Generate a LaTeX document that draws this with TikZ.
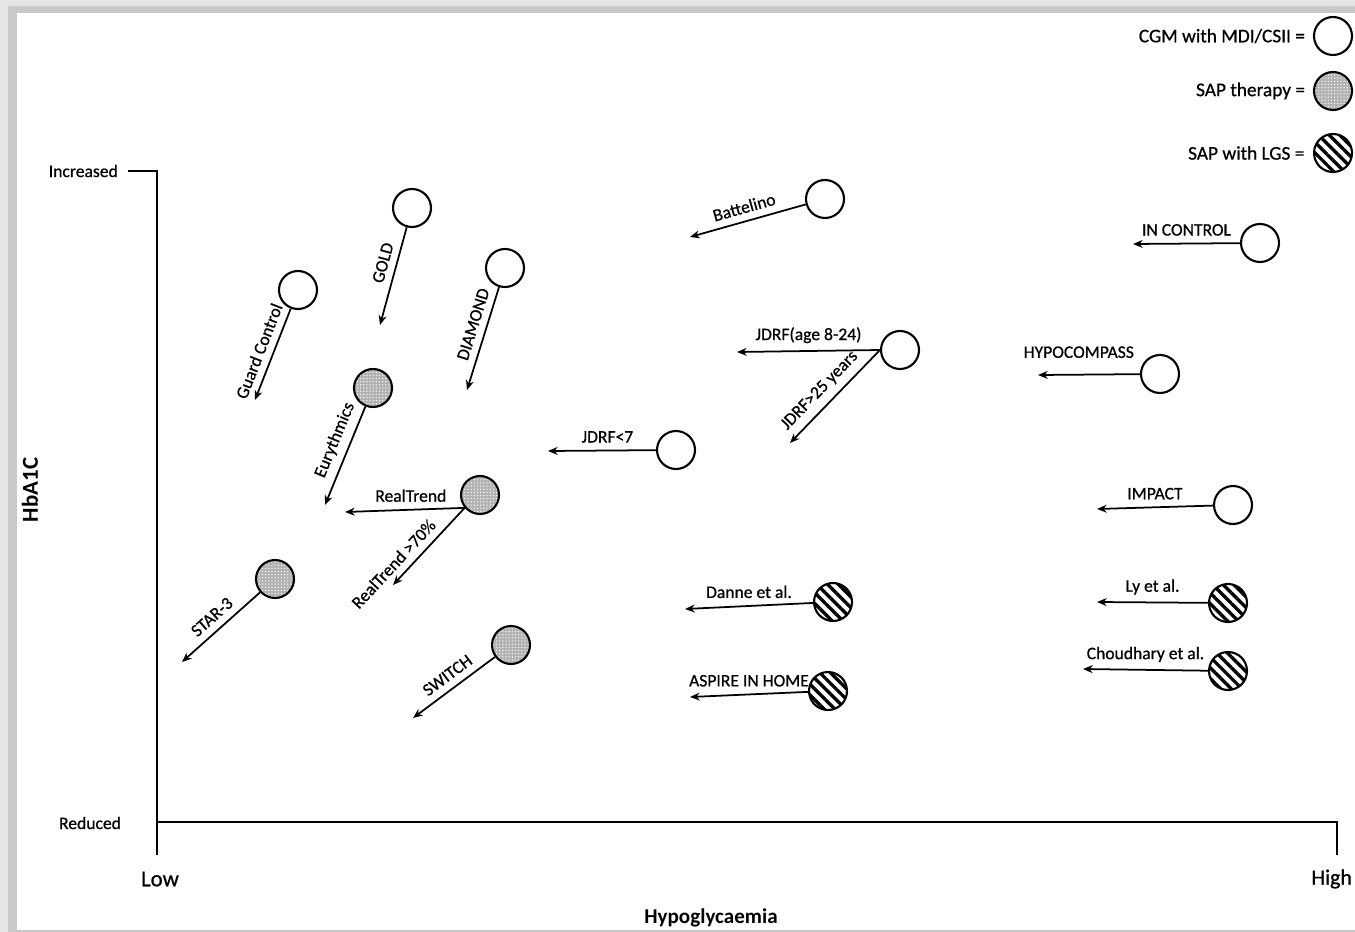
\documentclass[tikz,border=0pt]{standalone}
\usepackage{fontspec}
\setmainfont{Carlito}
\newfontfamily\lblfont{Carlito}[FakeBold=0.7]
\usetikzlibrary{arrows.meta,patterns.meta,positioning}

\tikzset{
  study/.style={circle, draw, line width=1.2pt, minimum size=0.76cm, inner sep=0pt},
  cgm/.style={study, fill=white},
  sap/.style={study, preaction={fill=gray!60}, pattern={Dots[distance=1.8pt,radius=0.4pt]}, pattern color=white},
  lgs/.style={study, pattern={Lines[angle=-45,distance=4.3pt,line width=1.9pt]}},
  trend/.style={line width=1pt, -{Stealth[length=5.5pt,width=4.5pt]}},
  lbl/.style={above=2pt, inner sep=2pt},
}

\begin{document}
\begin{tikzpicture}[x=0.02cm, y=-0.02cm, font=\lblfont\fontsize{10}{12}\selectfont]
\useasboundingbox (0,0) rectangle (1355,932);
% frame
\fill[gray!20] (0,0) rectangle (1355,932);
\fill[gray!42] (8,6) rectangle (1355,932);
\fill[white] (17,13) rectangle (1355,930);

% axes
\coordinate (ytop) at (157,171);
\coordinate (orig) at (157,822);
\coordinate (xend) at (1337,822);
\draw[line width=1pt] (128,171) -- (ytop) -- (157,855);
\draw[line width=1pt] (orig) -- (xend) -- (1337,855);
\node[anchor=east] (incr) at (124,171) {Increased};
\node (red) at (90,823) {Reduced};
\node[font=\lblfont\fontsize{13}{15}\selectfont] (low) at (160,879) {Low};
\node[font=\lblfont\fontsize{12.5}{15}\selectfont, anchor=west, inner sep=0pt] (high) at (1311,879) {High};
\node[font=\normalfont\fontsize{12}{14}\selectfont\bfseries] (xlab) at (711,918) {Hypoglycaemia};
\node[font=\normalfont\fontsize{13}{15}\selectfont\bfseries, rotate=90] (ylab) at (30,490) {HbA1C};

% legend
\node[cgm] (legcgm) at (1333,36) {};
\node[sap] (legsap) at (1333,91) {};
\node[lgs] (leglgs) at (1333,153) {};
\node[font=\lblfont\fontsize{11}{13}\selectfont, left=1pt of legcgm] {CGM with MDI/CSII =};
\node[font=\lblfont\fontsize{11}{13}\selectfont, left=1pt of legsap] {SAP therapy =};
\node[font=\lblfont\fontsize{11}{13}\selectfont, left=1pt of leglgs] {SAP with LGS =};

% CGM with MDI/CSII
\node[cgm] (guard) at (298,290) {};
\node[cgm] (gold) at (412,208) {};
\node[cgm] (diamond) at (505,268) {};
\node[cgm] (jdrfseven) at (676,450) {};
\node[cgm] (battelino) at (825,199) {};
\node[cgm] (jdrf) at (900,350) {};
\node[cgm] (inctrl) at (1260,243) {};
\node[cgm] (hypo) at (1160,374) {};
\node[cgm] (impact) at (1233,505) {};
% SAP therapy
\node[sap] (eury) at (373,388) {};
\node[sap] (rt) at (480,495) {};
\node[sap] (star) at (275,579) {};
\node[sap] (switch) at (511,645) {};
% SAP with LGS
\node[lgs] (danne) at (833,602) {};
\node[lgs] (aspire) at (828,691) {};
\node[lgs] (ly) at (1228,603) {};
\node[lgs] (choud) at (1228,671) {};

\coordinate (guardtip) at (255,400);
\coordinate (goldtip) at (380,325);
\coordinate (diamondtip) at (467,390);
\coordinate (jdrfseventip) at (548,451);
\coordinate (battelinotip) at (690,237);
\coordinate (jdrfatip) at (737,352);
\coordinate (jdrfbtip) at (790,443);
\coordinate (inctrltip) at (1133,244);
\coordinate (hypotip) at (1038,375);
\coordinate (impacttip) at (1097,509);
\coordinate (eurytip) at (325,505);
\coordinate (rtatip) at (345,512);
\coordinate (rtbtip) at (393,585);
\coordinate (startip) at (182,662);
\coordinate (switchtip) at (413,718);
\coordinate (dannetip) at (685,609);
\coordinate (aspiretip) at (690,697);
\coordinate (lytip) at (1097,602);
\coordinate (choudtip) at (1083,669);

\draw[trend] (guard) -- node[lbl, sloped, pos=0.52] {Guard Control} (guardtip);
\draw[trend] (gold) -- node[lbl, sloped, pos=0.4] {GOLD} (goldtip);
\draw[trend] (diamond) -- node[lbl, sloped, pos=0.4] {DIAMOND} (diamondtip);
\draw[trend] (jdrfseven) -- node[lbl, pos=0.45] {JDRF<7} (jdrfseventip);
\draw[trend] (battelino) -- node[lbl, sloped, pos=0.5] {Battelino} (battelinotip);
\draw[trend] (jdrf.west) -- node[lbl, pos=0.5] {JDRF(age 8-24)} (jdrfatip);
\draw[trend] (jdrf.west) -- node[lbl, sloped, pos=0.55] {JDRF>25 years} (jdrfbtip);
\draw[trend] (inctrl) -- node[lbl, pos=0.5] {IN CONTROL} (inctrltip);
\draw[trend] (hypo) -- node[lbl, above=7pt, pos=0.6] {HYPOCOMPASS} (hypotip);
\draw[trend] (impact) -- node[lbl, pos=0.5] {IMPACT} (impacttip);
\draw[trend] (eury) -- node[lbl, sloped, pos=0.4] {Eurythmics} (eurytip);
\draw[trend] (rt.-140) -- node[lbl, pos=0.45] {RealTrend} (rtatip);
\draw[trend] (rt.-140) -- node[lbl, sloped, pos=0.85] {RealTrend >70\%} (rtbtip);
\draw[trend] (star) -- node[lbl, sloped, pos=0.5] {STAR-3} (startip);
\draw[trend] (switch) -- node[lbl, sloped, pos=0.48] {SWITCH} (switchtip);
\draw[trend] (danne) -- node[lbl, pos=0.5] {Danne et al.} (dannetip);
\draw[trend] (aspire) -- node[lbl, pos=0.5] {ASPIRE IN HOME} (aspiretip);
\draw[trend] (ly) -- node[lbl, pos=0.5] {Ly et al.} (lytip);
\draw[trend] (choud) -- node[lbl, pos=0.5] {Choudhary et al.} (choudtip);
\end{tikzpicture}
\end{document}
